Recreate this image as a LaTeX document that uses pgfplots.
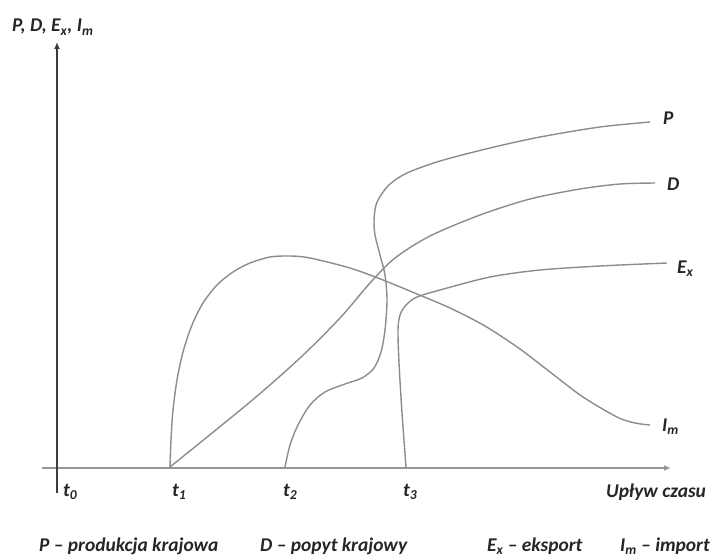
\documentclass[border=0pt]{standalone}
\usepackage{pgfplots}
\pgfplotsset{compat=1.18}
\usetikzlibrary{arrows.meta}
\usepackage{fontspec}
\setmainfont{Carlito}

\definecolor{curve}{RGB}{140,140,140}
\definecolor{xax}{RGB}{150,150,150}
\definecolor{yax}{RGB}{60,60,60}
\tikzset{
  lab/.style={font=\fontsize{19.5}{22}\selectfont\bfseries\itshape, text=black!85, anchor=base west, inner sep=0pt},
  cv/.style={curve, solid, line width=1.4bp, smooth, mark=none},
}

\begin{document}
\begin{tikzpicture}
\begin{axis}[
    scale only axis,
    width=728bp, height=558bp,
    xmin=0, xmax=728, ymin=0, ymax=558,
    y dir=reverse,
    hide axis,
    clip=false,
]
% axes
\addplot[xax, line width=2bp, sharp plot, -{Latex[length=7bp,width=6bp]}] coordinates {(42,468) (671,468)};
\addplot[yax, line width=1.3bp, sharp plot, -{Latex[length=7bp,width=6bp]}] coordinates {(57,493) (57,42)};

% D
\addplot[cv] coordinates {(170,467) (250,402) (300,358) (340,318) (370,283) (395,258)
  (430,236) (480,215) (530,199) (580,189) (620,184) (655,183)};
% Im
\addplot[cv] coordinates {(170,467) (171,440) (173,410) (177,380) (183,352) (192,325)
  (203,303) (217,285) (233,272) (250,263) (270,257) (290,256) (310,258) (350,268)
  (383,280) (417,294) (450,308) (485,326) (520,349) (550,372) (583,397)
  (617,417) (635,423) (650,425)};
% P
\addplot[cv] coordinates {(285,467) (290,445) (298,425) (310,405) (325,392) (345,384)
  (362,378) (374,368) (381,352) (385,330) (387,300) (385,275) (380,255) (375,235)
  (374,220) (376,205) (381,195) (390,184) (407,173) (440,161) (490,148) (540,137)
  (600,127) (650,122)};
% Ex
\addplot[cv] coordinates {(406,467) (402,413) (399,363) (398,330) (400,315) (406,305)
  (417,297) (440,290) (490,277) (540,270) (600,266) (667,263)};

% labels
\node[lab] at (axis cs:12,32) {P, D, E\textsubscript{x}, I\textsubscript{m}};
\node[lab] at (axis cs:663,125) {P};
\node[lab] at (axis cs:667,190) {D};
\node[lab] at (axis cs:677,273) {E\textsubscript{x}};
\node[lab] at (axis cs:662,431) {I\textsubscript{m}};

\node[lab] at (axis cs:63,496) {t\textsubscript{0}};
\node[lab] at (axis cs:172,496) {t\textsubscript{1}};
\node[lab] at (axis cs:283,496) {t\textsubscript{2}};
\node[lab] at (axis cs:403,496) {t\textsubscript{3}};
\node[lab] at (axis cs:606,497) {Upływ czasu};

\node[lab] at (axis cs:39,551) {P – produkcja krajowa};
\node[lab] at (axis cs:260,551) {D – popyt krajowy};
\node[lab] at (axis cs:487,551) {E\textsubscript{x} – eksport};
\node[lab] at (axis cs:620,551) {I\textsubscript{m} – import};
\end{axis}
\pgfresetboundingbox
\path (current axis.south west) rectangle (current axis.north east);
\end{tikzpicture}
\end{document}
